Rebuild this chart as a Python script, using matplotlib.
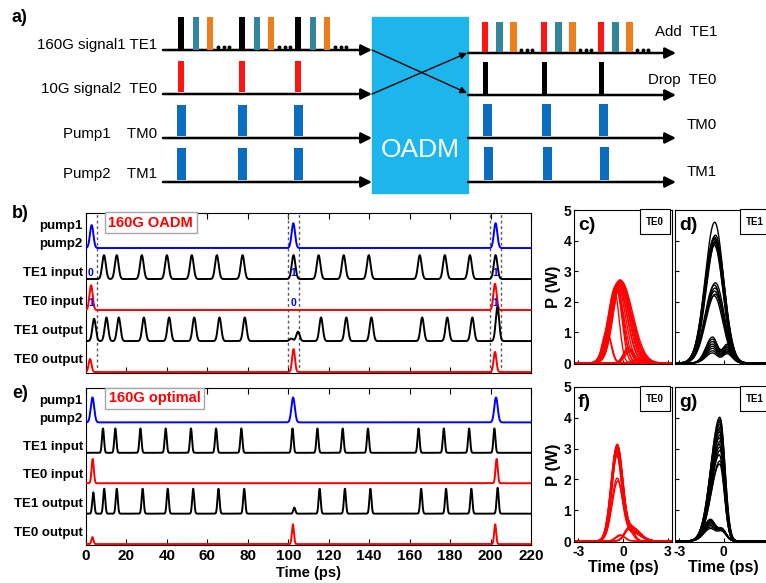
import numpy as np
import matplotlib
matplotlib.use('Agg')
import matplotlib.pyplot as plt

plt.rcParams['font.family'] = ['Liberation Sans', 'DejaVu Sans']
plt.rcParams['axes.unicode_minus'] = False

# ---------------- data ----------------
# schematic (panel a)
SCH_LEFT_LABELS = ['160G signal1 TE1', '10G signal2  TE0', 'Pump1    TM0', 'Pump2    TM1']
SCH_RIGHT_LABELS = ['Add  TE1', 'Drop  TE0', 'TM0', 'TM1']
SCH_FRAMES_IN = [181, 242, 298]
SCH_FRAMES_OUT = [486, 545, 602]
TEAL = '#31869B'
ORANGE = '#EE7D1B'
BAR_RED = '#FF1414'
BAR_BLUE = '#0A6DBF'
OADM_BLUE = '#1CB5EC'

# panel b (160G OADM) pulse trains: centre times (ps) and amplitudes
B_PUMP_T = [2.8, 102.5, 202.5]
B_PUMP_A = [0.74, 0.80, 0.80]
B_TE1IN_T = [8.9, 15.2, 27.6, 40.0, 52.3, 64.7, 77.4, 102.6, 115.0, 127.4, 139.8, 165.0, 177.4, 189.8, 202.5]
B_TE1IN_A = [0.77] * 15
B_TE0IN_T = [2.5, 202.2]
B_TE0IN_A = [0.80, 0.85]
B_TE1OUT_T = [4.0, 10.1, 16.2, 28.6, 41.1, 53.5, 66.0, 78.5, 101.5, 104.8, 116.2, 128.7, 141.1, 166.2, 178.6, 191.0, 203.4]
B_TE1OUT_A = [0.72, 0.76, 0.76, 0.76, 0.76, 0.76, 0.76, 0.76, 0.08, 0.30, 0.76, 0.76, 0.76, 0.76, 0.76, 0.76, 1.10]
B_TE0OUT_T = [2.0, 102.6, 202.2]
B_TE0OUT_A = [0.42, 0.74, 0.65]
B_WINDOWS = [-0.3, 5.3, 99.8, 105.4, 199.7, 205.3]

# panel e (160G optimal)
E_PUMP_T = [3.2, 102.4, 202.7]
E_PUMP_A = [0.82, 0.82, 0.82]
E_TE1IN_T = [8.4, 14.5, 26.9, 39.4, 51.9, 64.3, 76.8, 102.1, 114.4, 126.9, 139.4, 164.4, 176.9, 189.4, 201.9]
E_TE1IN_A = [0.80] * 15
E_TE0IN_T = [3.3, 203.0]
E_TE0IN_A = [0.80, 0.80]
E_TE1OUT_T = [3.6, 9.0, 15.2, 28.0, 40.4, 53.0, 65.5, 78.2, 103.0, 115.5, 128.0, 140.6, 165.7, 178.0, 190.5, 203.5]
E_TE1OUT_A = [0.70, 0.82, 0.82, 0.82, 0.82, 0.82, 0.82, 0.82, 0.20, 0.82, 0.82, 0.82, 0.82, 0.82, 0.82, 0.85]
E_TE0OUT_T = [3.2, 102.3, 202.3]
E_TE0OUT_A = [0.23, 0.65, 0.65]

ROW_NAMES = ['pump1', 'pump2', 'TE1 input', 'TE0 input', 'TE1 output', 'TE0 output']
ROW_LABEL_Y = [4.70, 4.12, 3.18, 2.27, 1.33, 0.38]

BIT_T = [2.4, 102.5, 202.5]
TE1_BITS = ['0', '1', '1']
TE0_BITS = ['1', '0', '1']

# eye diagrams: peak (W), centre (ps), left/right width (ps)
C_PEAK = [2.72, 2.70, 2.69, 2.67, 2.66, 2.64, 2.62, 2.60, 2.58, 2.55, 2.52, 2.50, 2.45, 2.40, 2.30]
C_CENTER = [-0.20, -0.25, -0.15, -0.30, -0.22, -0.35, -0.28, -0.40, -0.18, -0.45, -0.33, -0.50, -0.38, -0.42, -0.55]
C_SL = [0.50] * 15
C_SR = [0.75, 0.70, 0.80, 0.65, 0.72, 0.60, 0.68, 0.55, 0.78, 0.50, 0.62, 0.45, 0.40, 0.35, 0.30]
C_SIDE_PEAK = [1.05, 0.98]
C_SIDE_CENTER = [-1.10, -1.05]
C_LOW_PEAK = [0.52, 0.48, 0.45, 0.40, 0.15, 0.10]
C_LOW_CENTER = [0.35, 0.40, 0.30, 0.45, 1.00, 0.90]

D_PEAK = [4.60, 4.18, 4.12, 4.08, 4.05, 4.00, 3.95, 3.90, 3.85, 2.62, 2.55, 2.45, 2.35, 2.25, 2.20]
D_CENTER = [-0.60, -0.55, -0.62, -0.58, -0.65, -0.52, -0.60, -0.57, -0.63, -0.55, -0.62, -0.58, -0.60, -0.56, -0.64]
D_LOW_A1 = [0.85, 0.78, 0.70, 0.62, 0.55, 0.48, 0.40, 0.33]
D_LOW_A2 = [0.60, 0.55, 0.50, 0.45, 0.42, 0.38, 0.35, 0.30]

F_PEAK = [3.08, 3.06, 3.03, 3.00, 2.98, 2.95, 2.90, 2.85, 2.80, 2.72, 2.00, 1.90]
F_CENTER = [-0.40, -0.38, -0.42, -0.36, -0.44, -0.40, -0.35, -0.45, -0.38, -0.42, -0.40, -0.36]
F_TAIL = [0.45, 0.42, 0.40, 0.38, 0.35, 0.33, 0.30, 0.28, 0.40, 0.36, 0.32, 0.30]
F_LOW_PEAK = [0.45, 0.42, 0.38, 0.20, 0.18]
F_LOW_CENTER = [0.40, 0.45, 0.35, -0.20, -0.15]

G_PEAK = [4.02, 3.95, 3.88, 3.80, 3.72, 3.65, 3.55, 3.45, 3.35, 3.25, 3.15, 3.05, 2.95, 2.80, 2.60, 2.50]
G_CENTER = [-0.25, -0.22, -0.28, -0.24, -0.20, -0.30, -0.26, -0.23, -0.27, -0.21, -0.29, -0.25, -0.22, -0.28, -0.24, -0.26]
G_LOW_A1 = [0.70, 0.66, 0.62, 0.58, 0.55, 0.50, 0.45, 0.40]
G_LOW_A2 = [0.30, 0.35, 0.32, 0.38, 0.30, 0.35, 0.33, 0.30]

EYE_XTICKS = [-3, 0, 3]

# ---------------- figure ----------------
W, H = 766, 583
fig = plt.figure(figsize=(W / 100, H / 100), dpi=100)


def px_axes(x0, y0, x1, y1):
    return fig.add_axes([x0 / W, 1 - y1 / H, (x1 - x0) / W, (y1 - y0) / H])


def ftext(x, y, s, **kw):
    fig.text(x / W, 1 - y / H, s, **kw)


# ---------- panel a ----------
ax0 = px_axes(0, 0, W, 200)
ax0.set_xlim(0, W)
ax0.set_ylim(200, 0)
ax0.axis('off')

lane_in = [50, 94, 138, 182]
lane_out = [53, 95, 138, 182]
for y in lane_in:
    ax0.annotate('', xy=(372, y), xytext=(163, y),
                 arrowprops=dict(arrowstyle='-|>', lw=1.8, color='k', mutation_scale=16,
                                 shrinkA=0, shrinkB=0))
for y in lane_out:
    ax0.annotate('', xy=(676, y), xytext=(468, y),
                 arrowprops=dict(arrowstyle='-|>', lw=1.8, color='k', mutation_scale=16,
                                 shrinkA=0, shrinkB=0))

for y, lab in zip([45, 89, 134, 174], SCH_LEFT_LABELS):
    ax0.text(157, y, lab, ha='right', va='center', fontsize=10.8)
for (x, y), lab in zip([(655, 32), (648, 80), (687, 125), (687, 172)], SCH_RIGHT_LABELS):
    ax0.text(x, y, lab, ha='left', va='center', fontsize=10.8)

# input bars
for f in SCH_FRAMES_IN:
    ax0.bar([f, f + 14.5, f + 29], [-33] * 3, width=6, bottom=50,
            color=['black', TEAL, ORANGE], zorder=3)
    ax0.plot([f + 37, f + 42.5, f + 48], [46.5] * 3, 'o', color='k', ms=1.8, zorder=4)
    ax0.bar([f], [-31], width=6, bottom=92, color=BAR_RED, zorder=3)
    ax0.bar([f + 0.5], [-31], width=9, bottom=135.5, color=BAR_BLUE, zorder=3)
    ax0.bar([f + 0.5], [-32], width=9, bottom=179.5, color=BAR_BLUE, zorder=3)
# output bars
for f in SCH_FRAMES_OUT:
    ax0.bar([f - 1, f + 13.5, f + 27.5], [-30] * 3, width=6.5, bottom=52,
            color=[BAR_RED, TEAL, ORANGE], zorder=3)
    ax0.plot([f + 35, f + 40.5, f + 46], [50] * 3, 'o', color='k', ms=1.8, zorder=4)
    ax0.bar([f - 1], [-32], width=5, bottom=93.5, color='black', zorder=3)
    ax0.bar([f + 1], [-32], width=9, bottom=136, color=BAR_BLUE, zorder=3)
    ax0.bar([f + 2], [-33], width=9, bottom=180, color=BAR_BLUE, zorder=3)

ax0.add_patch(plt.Rectangle((372, 17), 96, 176, color=OADM_BLUE, zorder=2))
ax0.text(420, 150, 'OADM', color='white', fontsize=19, ha='center', va='center', zorder=3)
ax0.annotate('', xy=(467, 93), xytext=(372, 50),
             arrowprops=dict(arrowstyle='-|>', lw=1.0, color='k', mutation_scale=10,
                             shrinkA=0, shrinkB=0), zorder=4)
ax0.annotate('', xy=(467, 53), xytext=(372, 94),
             arrowprops=dict(arrowstyle='-|>', lw=1.0, color='k', mutation_scale=10,
                             shrinkA=0, shrinkB=0), zorder=4)
ftext(12, 18, 'a)', fontsize=13, fontweight='bold', va='center')


# ---------- panels b and e ----------
def pulse_train(t, times, amps, sigma):
    y = np.zeros_like(t)
    for tc, a in zip(times, amps):
        y += a * np.exp(-0.5 * ((t - tc) / sigma) ** 2)
    return y


t = np.linspace(0, 220, 6001)


def trace_panel(ax, rows, title, title_xy, label_ticks):
    ax.set_xlim(0, 220)
    ax.set_ylim(-0.03, 5.13)
    for base, color, times, amps, sig in rows:
        ax.plot(t, base + pulse_train(t, times, amps, sig), color=color, lw=1.4, zorder=3)
    ax.set_xticks(range(0, 221, 20))
    ax.set_yticks([])
    ax.tick_params(axis='x', direction='in', top=True, bottom=True, length=4, width=0.8,
                   labelbottom=label_ticks, labelsize=11, pad=3)
    for lab in ax.get_xticklabels():
        lab.set_fontweight('bold')
    for s in ax.spines.values():
        s.set_linewidth(0.8)
    for y, name in zip(ROW_LABEL_Y, ROW_NAMES):
        ax.text(-0.007, y, name, transform=ax.get_yaxis_transform(), ha='right', va='center',
                fontsize=9.5, fontweight='bold')
    ax.text(title_xy[0], title_xy[1], title, color='red', fontsize=10.5, fontweight='bold',
            ha='center', va='center',
            bbox=dict(boxstyle='square,pad=0.25', fc='white', ec='0.65', lw=1.0), zorder=5)


axb = px_axes(86, 213, 531, 373)
trace_panel(axb, [
    (4, 'blue', B_PUMP_T, B_PUMP_A, 0.85),
    (3, 'black', B_TE1IN_T, B_TE1IN_A, 0.9),
    (2, 'red', B_TE0IN_T, B_TE0IN_A, 0.8),
    (1, 'black', B_TE1OUT_T, B_TE1OUT_A, 0.85),
    (0, 'red', B_TE0OUT_T, B_TE0OUT_A, 0.7),
], '160G OADM', (32, 4.82), False)
for xw in B_WINDOWS:
    axb.axvline(xw, color='0.35', lw=1.0, ls=(0, (2, 2)), zorder=2)
for tb, b1, b0 in zip(BIT_T, TE1_BITS, TE0_BITS):
    axb.text(tb, 3.18, b1, color='blue', fontsize=7.5, fontweight='bold', ha='center', va='center', zorder=6)
    axb.text(tb, 2.22, b0, color='blue', fontsize=7.5, fontweight='bold', ha='center', va='center', zorder=6)
ftext(12, 213, 'b)', fontsize=13, fontweight='bold', va='center')

axe = px_axes(86, 388, 531, 545)
trace_panel(axe, [
    (4, 'blue', E_PUMP_T, E_PUMP_A, 0.85),
    (3, 'black', E_TE1IN_T, E_TE1IN_A, 0.5),
    (2, 'red', E_TE0IN_T, E_TE0IN_A, 0.55),
    (1, 'black', E_TE1OUT_T, E_TE1OUT_A, 0.5),
    (0, 'red', E_TE0OUT_T, E_TE0OUT_A, 0.5),
], '160G optimal', (34, 4.79), True)
axe.set_xlabel('Time (ps)', fontsize=10.5, fontweight='bold', labelpad=2)
ftext(12, 393, 'e)', fontsize=13, fontweight='bold', va='center')

# ---------- eye diagrams ----------
te = np.linspace(-3.3, 3.3, 1200)


def asym(tt, a, c, sl, sr):
    s = np.where(tt < c, sl, sr)
    return a * np.exp(-0.5 * ((tt - c) / s) ** 2)


def eye_axes(x0, y0, x1, y1, letter, mode, ylabels, xlabels, xticklabels=None):
    ax = px_axes(x0, y0, x1, y1)
    ax.set_xlim(-3.3, 3.3)
    ax.set_ylim(-0.03, 5)
    ax.set_yticks(range(0, 6))
    ax.set_xticks(EYE_XTICKS)
    if xticklabels is not None:
        ax.set_xticklabels(xticklabels)
    ax.tick_params(direction='in', length=3, width=0.8, labelsize=10, pad=2,
                   labelleft=ylabels, labelbottom=xlabels)
    for lab in ax.get_xticklabels() + ax.get_yticklabels():
        lab.set_fontweight('bold')
    for s in ax.spines.values():
        s.set_linewidth(0.8)
    ax.text(0.04, 0.9, letter, transform=ax.transAxes, fontsize=14, fontweight='bold',
            ha='left', va='center')
    ax.add_patch(plt.Rectangle((0.67, 0.845), 0.31, 0.16, transform=ax.transAxes,
                               fc='white', ec='black', lw=0.8, zorder=5, clip_on=False))
    ax.text(0.825, 0.925, mode, transform=ax.transAxes, fontsize=7, fontweight='bold',
            ha='center', va='center', zorder=6)
    if ylabels:
        ax.set_ylabel('P (W)', fontsize=12, fontweight='bold', labelpad=2)
    if xlabels:
        ax.set_xlabel('Time (ps)', fontsize=11.5, fontweight='bold', labelpad=1)
    return ax


axc = eye_axes(574, 210, 672, 364, 'c)', 'TE0', True, False)
for a, c, sl, sr in zip(C_PEAK, C_CENTER, C_SL, C_SR):
    axc.plot(te, asym(te, a, c, sl, sr), color='red', lw=1.0)
for a, c in zip(C_SIDE_PEAK, C_SIDE_CENTER):
    axc.plot(te, asym(te, a, c, 0.3, 0.28), color='red', lw=1.0)
for a, c in zip(C_LOW_PEAK, C_LOW_CENTER):
    axc.plot(te, asym(te, a, c, 0.3, 0.35), color='red', lw=1.0)

axd = eye_axes(675, 210, 772, 364, 'd)', 'TE1', False, False)
for a, c in zip(D_PEAK, D_CENTER):
    axd.plot(te, asym(te, a, c, 0.65, 0.6), color='black', lw=1.0)
for a1, a2 in zip(D_LOW_A1, D_LOW_A2):
    axd.plot(te, asym(te, a1, -0.75, 0.45, 0.35) + asym(te, a2, 0.25, 0.3, 0.35), color='black', lw=1.0)

axf = eye_axes(574, 387, 672, 542, 'f)', 'TE0', True, True)
for a, c, tl in zip(F_PEAK, F_CENTER, F_TAIL):
    axf.plot(te, asym(te, a, c, 0.38, 0.35) + asym(te, tl, 0.6, 0.5, 0.55), color='red', lw=1.0)
for a, c in zip(F_LOW_PEAK, F_LOW_CENTER):
    axf.plot(te, asym(te, a, c, 0.3, 0.3), color='red', lw=1.0)

# panel g is cropped at the figure edge in the reference, so its last tick label is not shown
axg = eye_axes(675, 387, 772, 542, 'g)', 'TE1', False, True, xticklabels=['-3', '0', ''])
for a, c in zip(G_PEAK, G_CENTER):
    axg.plot(te, asym(te, a, c, 0.6, 0.32), color='black', lw=1.0)
for a1, a2 in zip(G_LOW_A1, G_LOW_A2):
    axg.plot(te, asym(te, a1, -0.9, 0.45, 0.35) + asym(te, a2, -0.1, 0.3, 0.3), color='black', lw=1.0)

fig.savefig('out.png', dpi=100)
